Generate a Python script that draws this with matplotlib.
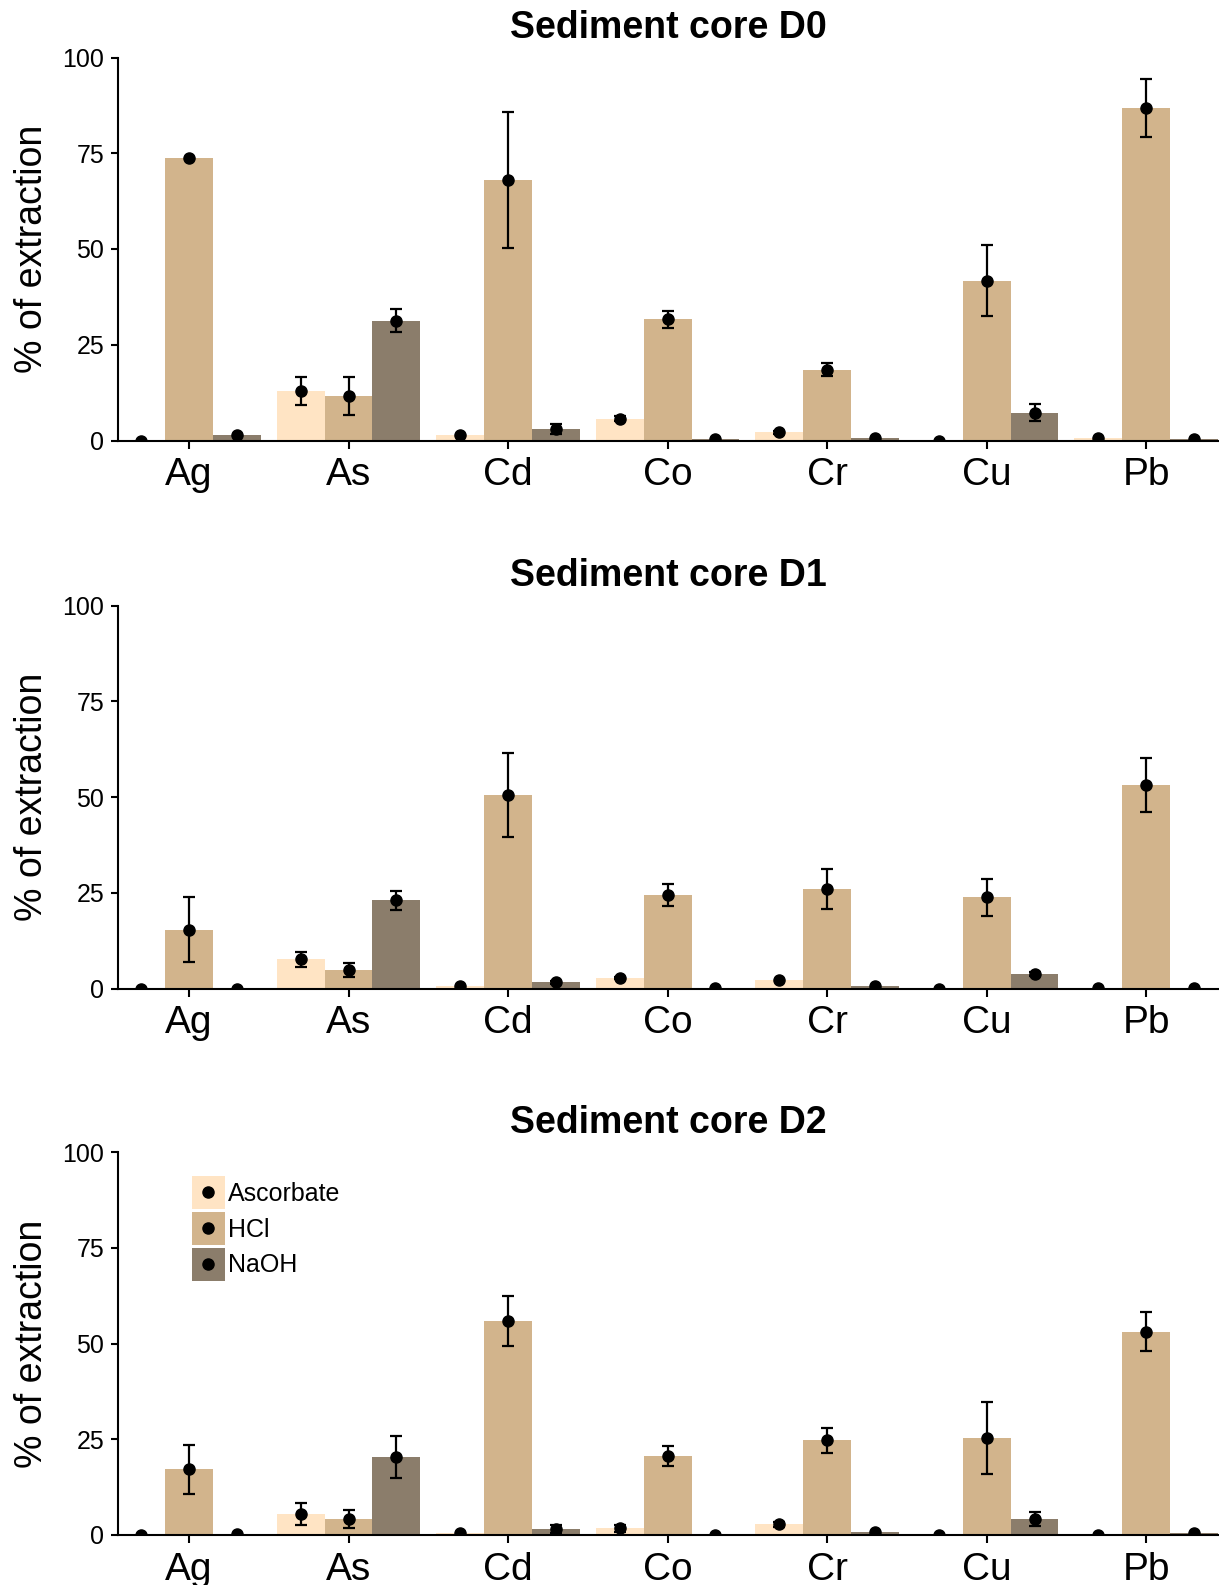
import numpy as np
import matplotlib
matplotlib.use("Agg")
import matplotlib.pyplot as plt
from matplotlib.patches import Patch, Rectangle
from matplotlib.lines import Line2D

plt.rcParams['font.family'] = ['Liberation Sans', 'DejaVu Sans']

metals = ["Ag", "As", "Cd", "Co", "Cr", "Cu", "Pb"]
extractants = ["Ascorbate", "HCl", "NaOH"]
colors = ["#FFE4C4", "#D2B48C", "#8B7D6B"]
titles = ["Sediment core D0", "Sediment core D1", "Sediment core D2"]

# D0
d0_asc = [0, 12.9, 1.4, 5.7, 2.1, 0, 0.6]
d0_asc_sd = [0, 3.6, 0, 0.6, 0.3, 0, 0]
d0_hcl = [73.7, 11.6, 68.0, 31.6, 18.5, 41.7, 86.8]
d0_hcl_sd = [0, 5.0, 17.7, 2.3, 1.75, 9.3, 7.6]
d0_naoh = [1.5, 31.3, 2.9, 0.4, 0.7, 7.3, 0.3]
d0_naoh_sd = [0, 3.1, 1.3, 0, 0, 2.1, 0]

# D1
d1_asc = [0, 7.6, 0.6, 2.8, 2.2, 0, 0.1]
d1_asc_sd = [0, 2.0, 0, 0.3, 0, 0, 0]
d1_hcl = [15.3, 4.8, 50.6, 24.4, 25.9, 23.8, 53.2]
d1_hcl_sd = [8.5, 1.8, 11.0, 2.9, 5.2, 4.8, 7.0]
d1_naoh = [0, 23.0, 1.6, 0.1, 0.6, 3.7, 0.2]
d1_naoh_sd = [0, 2.4, 0.3, 0, 0, 0.5, 0]

# D2
d2_asc = [0, 5.5, 0.6, 1.7, 2.8, 0, 0.1]
d2_asc_sd = [0, 2.8, 0, 1.0, 0.7, 0, 0]
d2_hcl = [17.2, 4.2, 55.9, 20.6, 24.7, 25.3, 53.1]
d2_hcl_sd = [6.4, 2.3, 6.6, 2.6, 3.2, 9.5, 5.1]
d2_naoh = [0.2, 20.4, 1.5, 0.1, 0.8, 4.2, 0.4]
d2_naoh_sd = [0, 5.5, 1.0, 0, 0, 1.8, 0]

panels = [
    ([d0_asc, d0_hcl, d0_naoh], [d0_asc_sd, d0_hcl_sd, d0_naoh_sd]),
    ([d1_asc, d1_hcl, d1_naoh], [d1_asc_sd, d1_hcl_sd, d1_naoh_sd]),
    ([d2_asc, d2_hcl, d2_naoh], [d2_asc_sd, d2_hcl_sd, d2_naoh_sd]),
]


class KeyHandler:
    """Legend key: filled square with a black dot in its centre."""
    def legend_artist(self, legend, orig_handle, fontsize, handlebox):
        x0, y0 = handlebox.xdescent, handlebox.ydescent
        w, h = handlebox.width, handlebox.height
        rect = Rectangle((-x0, -y0), w, h, facecolor=orig_handle.get_facecolor(),
                         edgecolor='none', transform=handlebox.get_transform())
        dot = Line2D([-x0 + w / 2], [-y0 + h / 2], marker='o', color='black',
                     linestyle='none', markersize=8, transform=handlebox.get_transform())
        handlebox.add_artist(rect)
        handlebox.add_artist(dot)
        return rect


W, H = 1219, 1585
fig = plt.figure(figsize=(W / 100, H / 100), dpi=100)

left_px, right_px = 118, 1218
tops = [57.5, 605.5, 1152]
axh = 383

x = np.arange(len(metals))
bw = 0.3
offsets = [-bw, 0, bw]

axes = []
for i, ((means, sds), title) in enumerate(zip(panels, titles)):
    top = tops[i]
    ax = fig.add_axes([left_px / W, 1 - (top + axh) / H, (right_px - left_px) / W, axh / H])
    axes.append(ax)
    for j in range(3):
        m = np.array(means[j], dtype=float)
        s = np.array(sds[j], dtype=float)
        xs = x + offsets[j]
        ax.bar(xs, m, width=bw, color=colors[j], edgecolor='none', zorder=2)
        mask = s > 0
        if mask.any():
            ax.errorbar(xs[mask], m[mask], yerr=s[mask], fmt='none', ecolor='black',
                        elinewidth=1.6, capsize=4.2, capthick=1.6, zorder=3)
        ax.plot(xs, m, 'o', color='black', markersize=8, zorder=4, clip_on=True)
    ax.set_xlim(-0.445, 6.45)
    ax.set_ylim(0, 100)
    ax.set_yticks([0, 25, 50, 75, 100])
    ax.set_xticks(x)
    ax.set_xticklabels(metals)
    for sp in ['top', 'right']:
        ax.spines[sp].set_visible(False)
    for sp in ['left', 'bottom']:
        ax.spines[sp].set_linewidth(1.5)
        ax.spines[sp].set_color('black')
    ax.tick_params(axis='y', labelsize=18, length=5, width=1.5, pad=5, colors='black')
    ax.tick_params(axis='x', labelsize=28, length=5.5, width=1.5, pad=6.5, colors='black')
    ax.set_ylabel("% of extraction", fontsize=27, labelpad=9)
    ax.set_title(title, fontsize=27, fontweight='bold', pad=14)

handles = [Patch(facecolor=c, edgecolor='none') for c in colors]
axes[2].legend(handles, extractants, handler_map={Patch: KeyHandler()},
               loc='upper left', bbox_to_anchor=(192 / W, 1 - 1176 / H),
               bbox_transform=fig.transFigure, frameon=False, fontsize=18,
               handlelength=1.3, handleheight=1.65, labelspacing=0.12,
               handletextpad=0.12, borderpad=0, borderaxespad=0)

fig.savefig("out.png", dpi=100)
